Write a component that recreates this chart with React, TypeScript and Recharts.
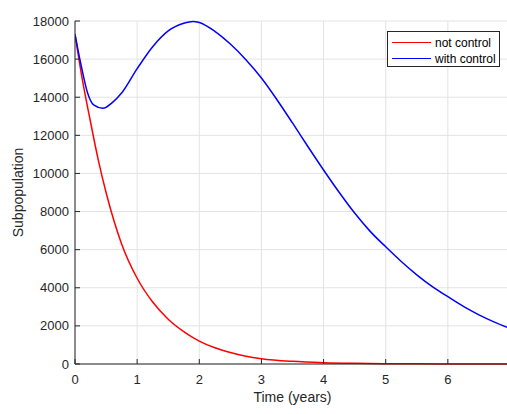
import React from 'react';
import { LineChart, Line, XAxis, YAxis, CartesianGrid, Legend } from 'recharts';

// not control: rapid exponential-like decline
const notControlTime = [0, 0.125, 0.25, 0.375, 0.5, 0.75, 1, 1.25, 1.5, 1.75, 2, 2.25, 2.5, 2.75, 3, 3.5, 4, 4.5, 5, 5.5, 6, 6.5, 7];
const notControlValues = [17300, 14800, 12700, 10700, 9000, 6300, 4500, 3250, 2350, 1700, 1200, 850, 600, 410, 280, 140, 70, 35, 18, 9, 5, 2, 1];

// with control: dip, recovery peak near t=1.9, then decline
const withControlTime = [0, 0.1, 0.2, 0.3, 0.45, 0.6, 0.75, 1, 1.25, 1.5, 1.75, 1.9, 2, 2.25, 2.5, 2.75, 3, 3.25, 3.5, 3.75, 4, 4.25, 4.5, 4.75, 5, 5.25, 5.5, 5.75, 6, 6.25, 6.5, 6.75, 7];
const withControlValues = [17300, 15650, 14250, 13600, 13420, 13720, 14220, 15500, 16650, 17480, 17880, 17980, 17920, 17460, 16790, 15970, 15010, 13870, 12650, 11400, 10180, 9010, 7920, 6960, 6150, 5380, 4680, 4060, 3530, 3020, 2580, 2200, 1870];

const xTicks = [0, 1, 2, 3, 4, 5, 6];
const yTicks = [0, 2000, 4000, 6000, 8000, 10000, 12000, 14000, 16000, 18000];

const notControl = notControlTime.map((t, i) => ({ t, v: notControlValues[i] }));
const withControl = withControlTime.map((t, i) => ({ t, v: withControlValues[i] }));

const axisColor = '#262626';
const font = '"Liberation Sans", Arial, Helvetica, sans-serif';

const BottomTick = (props: any) => {
  const { x, y, payload } = props;
  return (
    <g>
      <line x1={x} x2={x} y1={y} y2={y - 5} stroke={axisColor} />
      <text x={x} y={y + 19.5} textAnchor="middle" fill={axisColor} fontSize={13} fontFamily={font}>
        {payload.value}
      </text>
    </g>
  );
};

const LeftTick = (props: any) => {
  const { x, y, payload } = props;
  return (
    <g>
      <line x1={x} x2={x + 5} y1={y} y2={y} stroke={axisColor} />
      <text x={x - 6} y={y + 4.6} textAnchor="end" fill={axisColor} fontSize={13} fontFamily={font}>
        {payload.value}
      </text>
    </g>
  );
};

const TopTick = (props: any) => {
  const { x, y } = props;
  return <line x1={x} x2={x} y1={y} y2={y + 5} stroke={axisColor} />;
};

const RightTick = (props: any) => {
  const { x, y } = props;
  return <line x1={x - 5} x2={x} y1={y} y2={y} stroke={axisColor} />;
};

const LegendBox = () => (
  <div
    style={{
      width: 113,
      height: 36,
      boxSizing: 'border-box',
      border: `1px solid ${axisColor}`,
      background: '#fff',
      position: 'relative',
      fontFamily: font,
      fontSize: 12,
      color: '#000',
    }}
  >
    {[
      { name: 'not control', color: '#ff0000', top: 10.5 },
      { name: 'with control', color: '#0000ff', top: 26.5 },
    ].map((item) => (
      <div key={item.name} style={{ position: 'absolute', left: 0, top: item.top - 7, height: 14, width: 113 }}>
        <div style={{ position: 'absolute', left: 4, top: 6, width: 39, height: 1.5, background: item.color }} />
        <div style={{ position: 'absolute', left: 47, top: 0, lineHeight: '14px', whiteSpace: 'nowrap' }}>{item.name}</div>
      </div>
    ))}
  </div>
);

export default function App() {
  return (
    <div style={{ position: 'absolute', left: 0, top: 0, width: 507, height: 414, overflow: 'hidden', background: '#fff' }}>
      <LineChart width={512} height={414} margin={{ top: 21, right: 2, bottom: 0, left: 0 }}>
        <CartesianGrid stroke="#e3e3e3" strokeWidth={1} />
        <XAxis
          dataKey="t"
          type="number"
          domain={[0, 7]}
          ticks={xTicks}
          interval={0}
          allowDataOverflow
          height={50}
          tickSize={0}
          tickMargin={0}
          tickLine={false}
          stroke={axisColor}
          tick={<BottomTick />}
          label={{
            content: () => (
              <text x={292.5} y={402} textAnchor="middle" fill={axisColor} fontSize={14} fontFamily={font}>
                Time (years)
              </text>
            ),
          }}
        />
        <XAxis
          xAxisId="top"
          orientation="top"
          type="number"
          domain={[0, 7]}
          ticks={xTicks}
          interval={0}
          height={0}
          tickSize={0}
          tickMargin={0}
          tickLine={false}
          stroke={axisColor}
          tick={<TopTick />}
          label={{
            content: () => (
              <text x={292.5} y={15.5} textAnchor="middle" fill="#000" fontSize={14} fontWeight="bold" fontFamily={font}>
                Recovery
              </text>
            ),
          }}
        />
        <YAxis
          type="number"
          domain={[0, 18000]}
          ticks={yTicks}
          interval={0}
          width={75}
          tickSize={0}
          tickMargin={0}
          tickLine={false}
          stroke={axisColor}
          tick={<LeftTick />}
          label={{
            content: () => (
              <text
                x={22.5}
                y={192.5}
                transform="rotate(-90 22.5 192.5)"
                textAnchor="middle"
                fill={axisColor}
                fontSize={14}
                fontFamily={font}
              >
                Subpopulation
              </text>
            ),
          }}
        />
        <YAxis
          yAxisId="right"
          orientation="right"
          type="number"
          domain={[0, 18000]}
          ticks={yTicks}
          interval={0}
          width={0}
          tickSize={0}
          tickMargin={0}
          tickLine={false}
          stroke={axisColor}
          tick={<RightTick />}
        />
        <Legend
          layout="horizontal"
          verticalAlign="middle"
          align="center"
          wrapperStyle={{ position: 'absolute', left: 387, top: 31, width: 113, height: 36 }}
          content={() => <LegendBox />}
        />
        <Line
          data={notControl}
          dataKey="v"
          name="not control"
          type="monotone"
          stroke="#ff0000"
          strokeWidth={1.5}
          dot={false}
          isAnimationActive={false}
        />
        <Line
          data={withControl}
          dataKey="v"
          name="with control"
          type="monotone"
          stroke="#0000ff"
          strokeWidth={1.5}
          dot={false}
          isAnimationActive={false}
        />
      </LineChart>
    </div>
  );
}
